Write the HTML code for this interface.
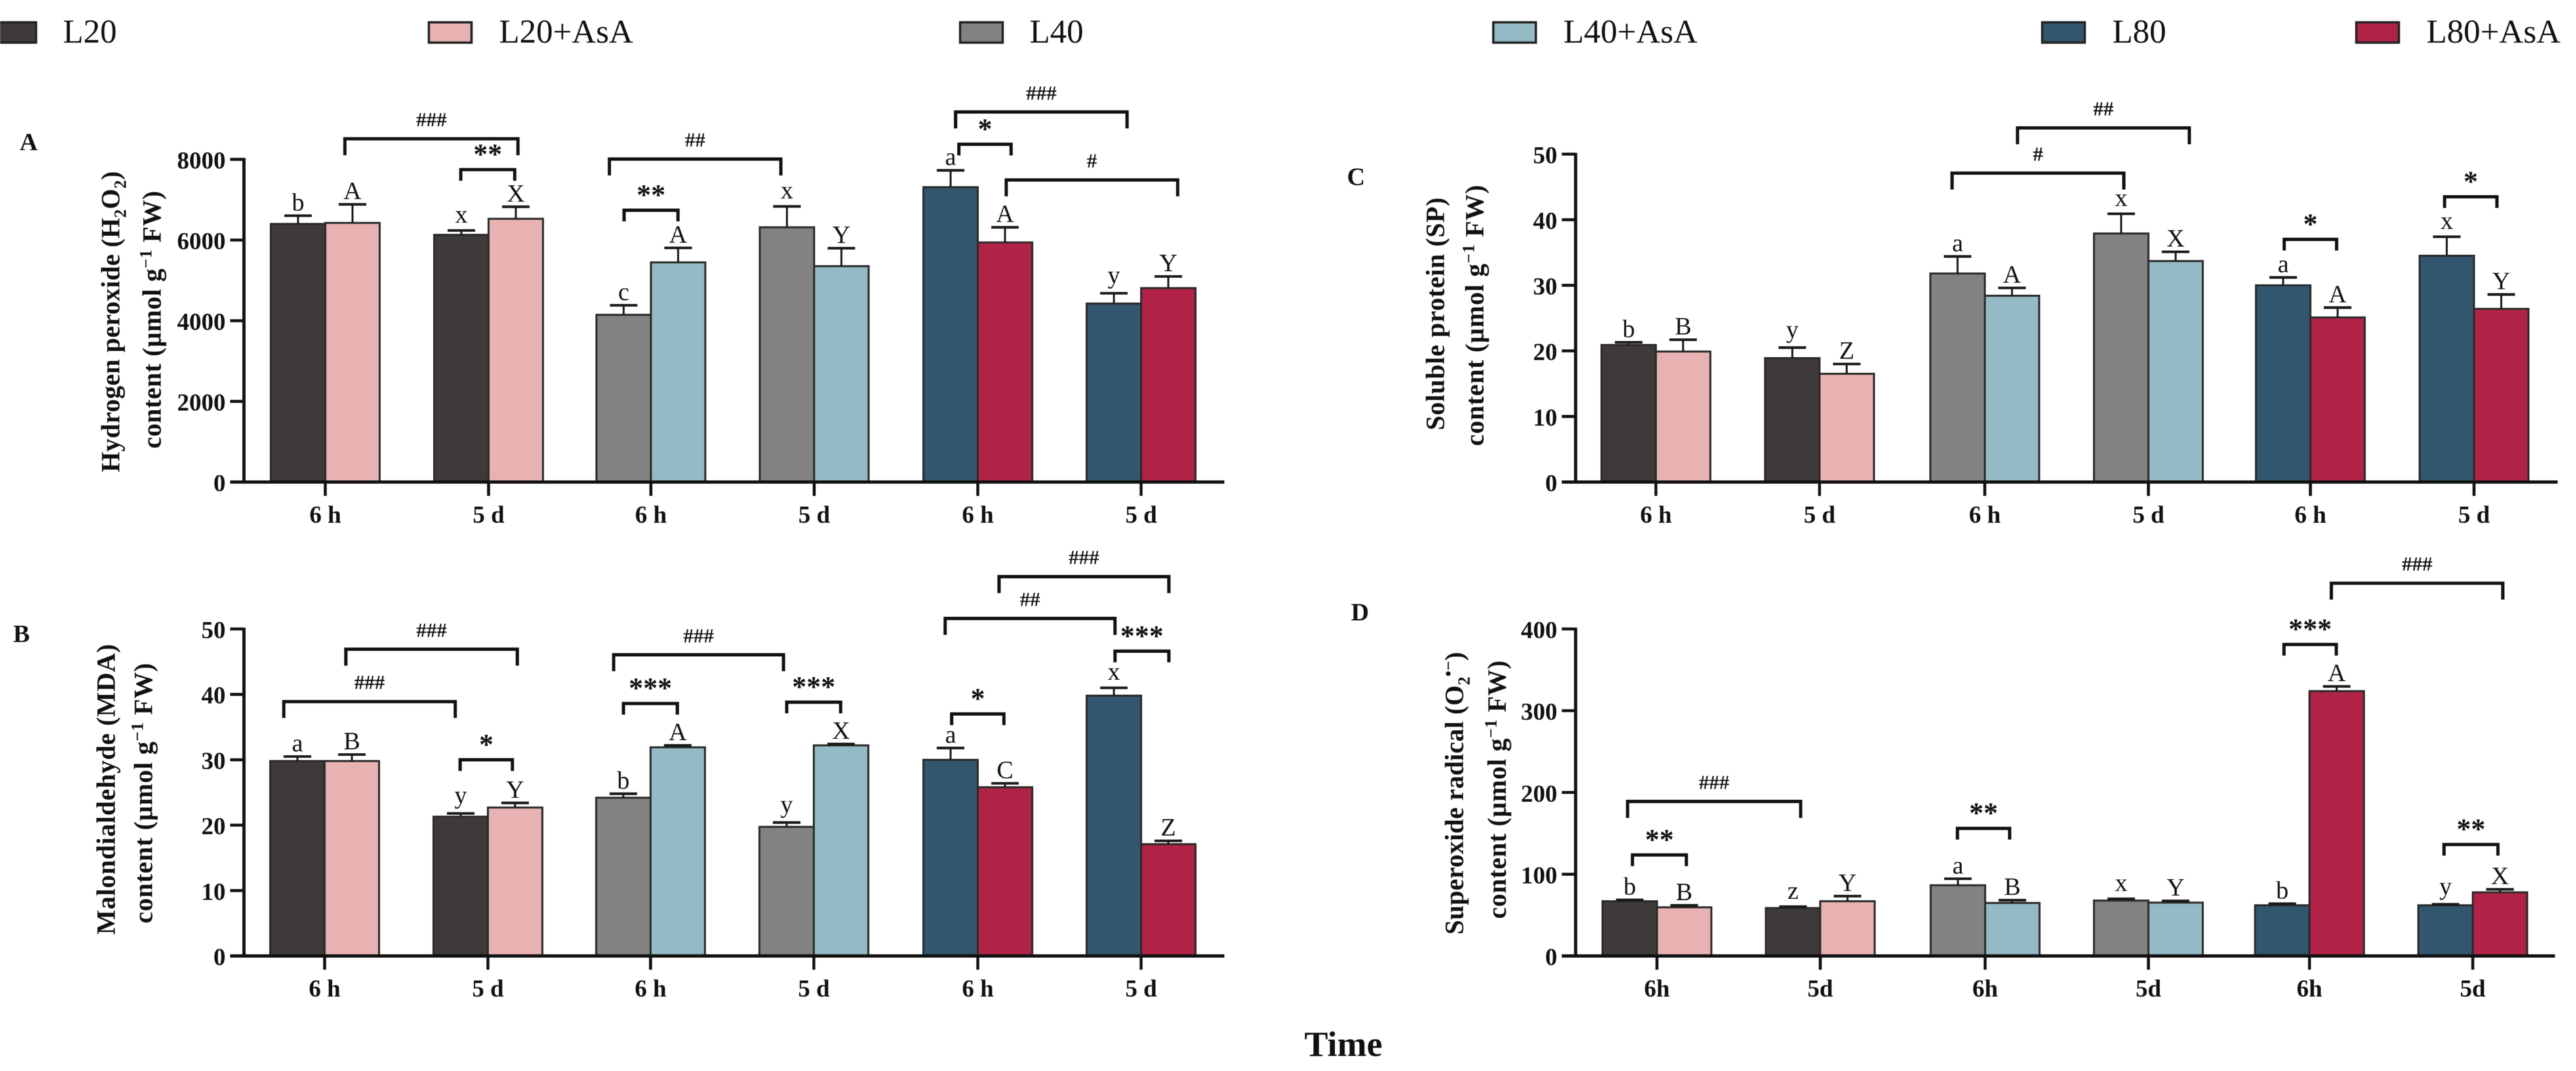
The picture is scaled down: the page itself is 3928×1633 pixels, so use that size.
<!DOCTYPE html>
<html lang="en">
<head>
<meta charset="utf-8">
<title>Oxidative stress bar charts</title>
<style>
html,body{margin:0;padding:0;background:#fff;}
svg{display:block;filter:blur(0.6px);}
text{font-family:"Liberation Serif","Times New Roman",serif;fill:#111;}
</style>
</head>
<body>
<svg id="figure" xmlns="http://www.w3.org/2000/svg" width="3928" height="1633" viewBox="0 0 3928 1633"></svg>
<script>
// ---------- shared categories ----------
const seriesNames = ['L20', 'L20+AsA', 'L40', 'L40+AsA', 'L80', 'L80+AsA'];
const seriesColors = ['#3e3a39', '#e8b2b3', '#828282', '#94bac5', '#32566d', '#b02347'];
const categoriesABC = ['6 h', '5 d', '6 h', '5 d', '6 h', '5 d'];
const categoriesD = ['6h', '5d', '6h', '5d', '6h', '5d'];

// ---------- panel A: hydrogen peroxide ----------
const meansA = [6400, 6425, 6128, 6528, 4145, 5447, 6315, 5353, 7310, 5940, 4425, 4808];
const errorsA = [204, 460, 110, 297, 238, 357, 519, 443, 418, 375, 256, 290];
const lettersA = ['b', 'A', 'x', 'X', 'c', 'A', 'x', 'Y', 'a', 'A', 'y', 'Y'];
const ticksA = [0, 2000, 4000, 6000, 8000];
const bracketLabelsA = ['###', '**', '##', '**', '###', '*', '#'];
const bracketFromA = [0.12, 0.83, 1.74, 1.83, 3.86, 3.88, 4.17];
const bracketToA = [1.18, 1.16, 2.79, 2.16, 4.91, 4.20, 5.22];
const bracketLevelA = [8510, 7745, 8008, 6740, 9174, 8374, 7490];

// ---------- panel B: malondialdehyde ----------
const meansB = [29.8, 29.8, 21.3, 22.7, 24.2, 31.9, 19.75, 32.2, 30, 25.8, 39.8, 17.1];
const errorsB = [0.7, 1, 0.5, 0.7, 0.6, 0.3, 0.65, 0.2, 1.8, 0.6, 1.2, 0.5];
const lettersB = ['a', 'B', 'y', 'Y', 'b', 'A', 'y', 'X', 'a', 'C', 'x', 'Z'];
const ticksB = [0, 10, 20, 30, 40, 50];
const bracketLabelsB = ['###', '###', '###', '***', '***', '*', '*', '##', '###', '***'];
const bracketFromB = [-0.25, 0.13, 1.77, 1.83, 2.83, 0.83, 3.84, 3.80, 4.13, 4.84];
const bracketToB = [0.80, 1.18, 2.81, 2.16, 3.16, 1.15, 4.16, 4.84, 5.17, 5.17];
const bracketLevelB = [38.9, 46.9, 46.05, 38.6, 38.8, 30, 37, 51.6, 58, 46.6];

// ---------- panel C: soluble protein ----------
const meansC = [20.9, 19.9, 18.9, 16.5, 31.8, 28.4, 37.9, 33.7, 30, 25.1, 34.5, 26.4];
const errorsC = [0.4, 1.8, 1.6, 1.5, 2.6, 1.2, 3, 1.4, 1.2, 1.5, 2.9, 2.2];
const lettersC = ['b', 'B', 'y', 'Z', 'a', 'A', 'x', 'X', 'a', 'A', 'x', 'Y'];
const ticksC = [0, 10, 20, 30, 40, 50];
const bracketLabelsC = ['##', '#', '*', '*'];
const bracketFromC = [2.21, 1.81, 3.84, 4.82];
const bracketToC = [3.26, 2.86, 4.16, 5.14];
const bracketLevelC = [54, 47.1, 37, 43.5];

// ---------- panel D: superoxide radical ----------
const meansD = [67, 59.5, 58.6, 67, 86.5, 64.9, 67.8, 65.3, 62, 324, 62, 77.8];
const errorsD = [1.6, 2.5, 1.7, 6.2, 7.9, 3.3, 2.1, 2.1, 2, 5.7, 1.2, 3.7];
const lettersD = ['b', 'B', 'z', 'Y', 'a', 'B', 'x', 'Y', 'b', 'A', 'y', 'X'];
const ticksD = [0, 100, 200, 300, 400];
const bracketLabelsD = ['###', '**', '**', '***', '###', '**'];
const bracketFromD = [-0.18, -0.15, 1.84, 3.84, 4.13, 4.82];
const bracketToD = [0.88, 0.18, 2.16, 4.16, 5.18, 5.15];
const bracketLevelD = [189, 123.5, 156, 381, 456, 136.4];

// ---------- drawing ----------
const NS = 'http://www.w3.org/2000/svg';
const figure = document.getElementById('figure');
const DARK = '#111';

function make(tag, attrs, parent) {
  const node = document.createElementNS(NS, tag);
  for (const k in attrs) node.setAttribute(k, attrs[k]);
  parent.appendChild(node);
  return node;
}

function letterGap(ch) {
  if (ch === 'y') return 15;
  if (ch === 'x' || ch === 'z') return 12;
  return 8;
}

function drawLegend() {
  const swatchLeft = [-10, 654, 1464, 2277, 3114, 3593];
  const textLeft = [96, 761, 1570, 2384, 3221, 3700];
  const g = make('g', {}, figure);
  
  
  seriesNames.forEach(function (name, i) {
    const sw = make('rect', {x: swatchLeft[i], y: 34, width: 65, height: 31, fill: seriesColors[i], stroke: '#222', 'stroke-width': 3.5}, g);
    
    
    const t = make('text', {x: textLeft[i], y: 65, 'font-size': 51, fill: '#1a1a1a'}, g);
    
    
    t.textContent = name;
  });
}

function drawPanel(p) {
  const g = make('g', {}, figure);
  
  

  const yScale = function (v) { return p.y0 - (v / p.max) * (p.y0 - p.yTop); };
  const groupX = function (t) { return p.x0 + p.step * t; };
  const centerX = function (group) { return groupX(group) + p.blockShift[Math.floor(group / 2)]; };
  const BAR_W = 83;

  // bars
  p.means.forEach(function (v, i) {
    const group = Math.floor(i / 2);
    const left = centerX(group) + (i % 2 ? 0 : -BAR_W);
    const bar = make('rect', {x: left, y: yScale(v), width: BAR_W, height: p.y0 - yScale(v), fill: seriesColors[Math.floor(group / 2) * 2 + (i % 2)], stroke: '#2a2a2a', 'stroke-width': 3}, g);
    
    

    const cx = left + BAR_W / 2;
    const errTop = yScale(v + p.errors[i]);
    const stem = make('line', {x1: cx, x2: cx, y1: yScale(v), y2: errTop, stroke: '#1a1a1a', 'stroke-width': 3}, g);
    
    
    const cap = make('line', {x1: cx - 21, x2: cx + 21, y1: errTop, y2: errTop, stroke: '#1a1a1a', 'stroke-width': 4}, g);
    
    

    const letter = make('text', {x: cx, y: errTop - letterGap(p.letters[i]), 'font-size': 38, 'text-anchor': 'middle', fill: '#1a1a1a'}, g);
    
    
    letter.textContent = p.letters[i];
  });

  // y axis
  const yAxis = make('line', {x1: p.axisX, x2: p.axisX, y1: yScale(p.max) - 2, y2: p.y0 + 2, stroke: DARK, 'stroke-width': 5}, g);
  
  
  p.ticks.forEach(function (v) {
    const tk = make('line', {x1: p.axisX - 21, x2: p.axisX, y1: yScale(v), y2: yScale(v), stroke: DARK, 'stroke-width': 4.5}, g);
    
    
    const lb = make('text', {x: p.axisX - 28, y: yScale(v) + 14, 'font-size': 37, 'font-weight': 'bold', 'text-anchor': 'end'}, g);
    
    
    lb.textContent = String(v);
  });

  // x axis
  const xAxis = make('line', {x1: p.axisX - 21, x2: p.axisEnd, y1: p.y0, y2: p.y0, stroke: DARK, 'stroke-width': 5}, g);
  
  
  p.categories.forEach(function (c, i) {
    const x = centerX(i);
    const tk = make('line', {x1: x, x2: x, y1: p.y0, y2: p.y0 + 21, stroke: DARK, 'stroke-width': 4.5}, g);
    
    
    const lb = make('text', {x: x, y: p.y0 + 62, 'font-size': 37, 'font-weight': 'bold', 'text-anchor': 'middle'}, g);
    
    
    lb.textContent = c;
  });

  // brackets
  p.bracketLabels.forEach(function (label, i) {
    const isHash = label.charAt(0) === '#';
    const drop = isHash ? 25 : 17;
    const x1 = groupX(p.bracketFrom[i]);
    const x2 = groupX(p.bracketTo[i]);
    const y = yScale(p.bracketLevel[i]);
    const br = make('path', {d: 'M' + x1 + ' ' + (y + drop) + 'V' + y + 'H' + x2 + 'V' + (y + drop), fill: 'none', stroke: DARK, 'stroke-width': 5}, g);
    
    
    const lb = make('text', {x: (x1 + x2) / 2, y: isHash ? y - 19 : y - 9, 'font-size': isHash ? 31 : 44, 'font-weight': isHash ? 'bold' : 'bold', 'text-anchor': 'middle'}, g);
    
    
    lb.textContent = label;
  });

  // y title (two rotated lines)
  const t1 = make('text', {transform: 'translate(' + p.title1X + ' ' + p.title1Y + ') rotate(-90)', 'font-size': 40, 'font-weight': 'bold', textLength: p.title1Len, lengthAdjust: 'spacing'}, g);
  
  
  t1.innerHTML = p.title1;
  const t2 = make('text', {transform: 'translate(' + p.title2X + ' ' + p.title2Y + ') rotate(-90)', 'font-size': 40, 'font-weight': 'bold', textLength: p.title2Len, lengthAdjust: 'spacing'}, g);
  
  
  t2.innerHTML = 'content (\u00b5mol g<tspan dy="-14" font-size="26">\u22121</tspan><tspan dy="14">  FW)</tspan>';

  // panel letter
  const tag = make('text', {x: p.tagX, y: p.tagY, 'font-size': 38, 'font-weight': 'bold'}, g);
  
  
  tag.textContent = p.tag;
}

drawLegend();

drawPanel({
  name: 'chart-hydrogen-peroxide', tag: 'A', tagX: 30, tagY: 229,
  means: meansA, errors: errorsA, letters: lettersA, ticks: ticksA, max: 8000, categories: categoriesABC,
  bracketLabels: bracketLabelsA, bracketFrom: bracketFromA, bracketTo: bracketToA, bracketLevel: bracketLevelA,
  axisX: 372, axisEnd: 1867, y0: 735, yTop: 243, x0: 496, step: 249, blockShift: [0, -1.5, -1],
  title1: 'Hydrogen peroxide (H<tspan dy="10" font-size="26">2</tspan><tspan dy="-10">O</tspan><tspan dy="10" font-size="26">2</tspan><tspan dy="-10">)</tspan>',
  title1X: 182, title1Y: 720, title1Len: 459, title2X: 245, title2Y: 684, title2Len: 393
});
drawPanel({
  name: 'chart-malondialdehyde', tag: 'B', tagX: 20, tagY: 979,
  means: meansB, errors: errorsB, letters: lettersB, ticks: ticksB, max: 50, categories: categoriesABC,
  bracketLabels: bracketLabelsB, bracketFrom: bracketFromB, bracketTo: bracketToB, bracketLevel: bracketLevelB,
  axisX: 372, axisEnd: 1867, y0: 1457.6, yTop: 959, x0: 495, step: 249, blockShift: [0, -1, 0],
  title1: 'Malondialdehyde (MDA)',
  title1X: 175, title1Y: 1425, title1Len: 443, title2X: 232, title2Y: 1408, title2Len: 397
});
drawPanel({
  name: 'chart-soluble-protein', tag: 'C', tagX: 2054, tagY: 282,
  means: meansC, errors: errorsC, letters: lettersC, ticks: ticksC, max: 50, categories: categoriesABC,
  bracketLabels: bracketLabelsC, bracketFrom: bracketFromC, bracketTo: bracketToC, bracketLevel: bracketLevelC,
  axisX: 2402.6, axisEnd: 3900, y0: 735, yTop: 235, x0: 2525, step: 249.5, blockShift: [0, 2.5, 0],
  title1: 'Soluble protein (SP)',
  title1X: 2202, title1Y: 656, title1Len: 355, title2X: 2262, title2Y: 680, title2Len: 398
});
drawPanel({
  name: 'chart-superoxide-radical', tag: 'D', tagX: 2060, tagY: 946,
  means: meansD, errors: errorsD, letters: lettersD, ticks: ticksD, max: 400, categories: categoriesD,
  bracketLabels: bracketLabelsD, bracketFrom: bracketFromD, bracketTo: bracketToD, bracketLevel: bracketLevelD,
  axisX: 2402.6, axisEnd: 3896, y0: 1457.6, yTop: 959, x0: 2526.6, step: 249, blockShift: [0, 2.4, -1],
  title1: 'Superoxide radical (O<tspan dy="10" font-size="26">2</tspan><tspan dy="-24" font-size="26">\u2022\u2212</tspan><tspan dy="14">)</tspan>',
  title1X: 2231, title1Y: 1425, title1Len: 431, title2X: 2296, title2Y: 1401, title2Len: 394
});

const xTitle = make('text', {x: 1989, y: 1610, 'font-size': 54, 'font-weight': 'bold'}, figure);


xTitle.textContent = 'Time';
</script>
</body>
</html>
